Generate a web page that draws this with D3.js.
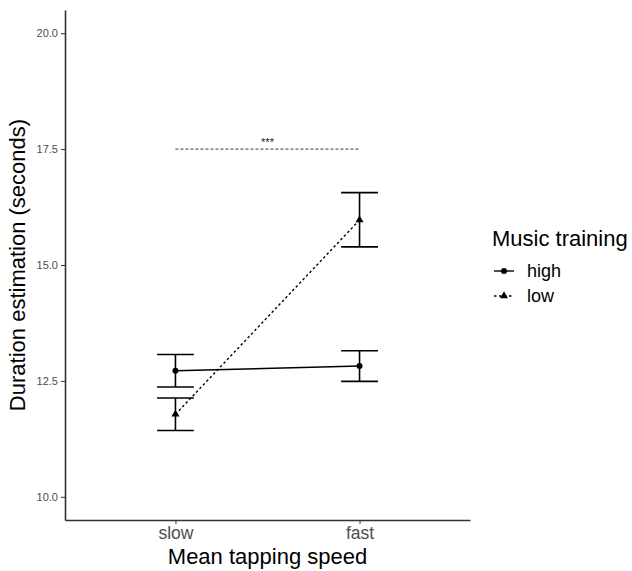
<!DOCTYPE html>
<html>
<head>
<meta charset="utf-8">
<script src="https://cdn.jsdelivr.net/npm/d3@7"></script>
<style>
  body { margin: 0; background: #fff; }
  svg { font-family: "Liberation Sans", Arial, sans-serif; }
</style>
</head>
<body>
<div id="chart"></div>
<script>
"use strict";

const speeds = ["slow", "fast"];
const groups = ["high", "low"];
const yTicks = [10, 12.5, 15, 17.5, 20];

// mean, lower and upper per speed
const highMean = [12.72, 12.82];
const highLow = [12.37, 12.49];
const highHigh = [13.07, 13.15];
const lowMean = [11.78, 15.97];
const lowLow = [11.43, 15.39];
const lowHigh = [12.13, 16.56];

const sigLevel = 17.5;
const sigLabel = "***";

const width = 632, height = 571;
const plot = { left: 65, right: 470, top: 10, bottom: 520 };

const svg = d3.select("#chart").append("svg")
  .attr("width", width)
  .attr("height", height);

const x = d3.scalePoint()
  .domain(speeds)
  .range([plot.left, plot.right])
  .padding(0.6);

const y = d3.scaleLinear()
  .domain([9.5, 20.5])
  .range([plot.bottom, plot.top]);

// axes
const yAxis = svg.append("g")
  .attr("transform", `translate(${plot.left},0)`)
  .call(d3.axisLeft(y).tickValues(yTicks).tickFormat(d3.format(".1f"))
    .tickSizeInner(4).tickSizeOuter(0).tickPadding(3));
yAxis.select(".domain").attr("stroke", "#333").attr("stroke-width", 1.6);
yAxis.selectAll(".tick line").attr("stroke", "#333").attr("stroke-width", 1);
yAxis.selectAll(".tick text")
  .attr("fill", "#4d4d4d")
  .style("font-size", "11px")
  .style("font-family", "Liberation Sans, Arial, sans-serif");

const xAxis = svg.append("g")
  .attr("transform", `translate(0,${plot.bottom})`)
  .call(d3.axisBottom(x).tickSizeInner(4).tickSizeOuter(0).tickPadding(3));
xAxis.select(".domain").attr("stroke", "#333").attr("stroke-width", 1.6);
xAxis.selectAll(".tick line").attr("stroke", "#333").attr("stroke-width", 1);
xAxis.selectAll(".tick text")
  .attr("fill", "#4d4d4d")
  .style("font-size", "17.5px")
  .style("font-family", "Liberation Sans, Arial, sans-serif");

// axis titles
svg.append("text")
  .attr("x", (plot.left + plot.right) / 2)
  .attr("y", 564)
  .attr("text-anchor", "middle")
  .style("font-size", "22px")
  .text("Mean tapping speed");

svg.append("text")
  .attr("transform", `translate(25,${(plot.top + plot.bottom) / 2}) rotate(-90)`)
  .attr("text-anchor", "middle")
  .style("font-size", "22px")
  .text("Duration estimation (seconds)");

// significance line
svg.append("line")
  .attr("x1", x("slow")).attr("x2", x("fast"))
  .attr("y1", y(sigLevel)).attr("y2", y(sigLevel))
  .attr("stroke", "#000")
  .attr("stroke-width", 0.8)
  .attr("stroke-dasharray", "3,2");
svg.append("text")
  .attr("x", (x("slow") + x("fast")) / 2)
  .attr("y", y(sigLevel) - 3)
  .attr("text-anchor", "middle")
  .style("font-size", "11px")
  .attr("fill", "#222")
  .text(sigLabel);

const series = [
  { name: "high", mean: highMean, lo: highLow, hi: highHigh, dash: null, shape: d3.symbolCircle },
  { name: "low", mean: lowMean, lo: lowLow, hi: lowHigh, dash: "2.5,2.5", shape: d3.symbolTriangle }
];

const capHalf = x.step() * 0.1;
const line = d3.line().x((d, i) => x(speeds[i])).y(d => y(d));

for (let s of series) {
  const g = svg.append("g");
  // error bars
  speeds.forEach((sp, i) => {
    const cx = x(sp);
    g.append("line")
      .attr("x1", cx).attr("x2", cx)
      .attr("y1", y(s.lo[i])).attr("y2", y(s.hi[i]))
      .attr("stroke", "#000").attr("stroke-width", 1.6);
    [s.lo[i], s.hi[i]].forEach(v => {
      g.append("line")
        .attr("x1", cx - capHalf).attr("x2", cx + capHalf)
        .attr("y1", y(v)).attr("y2", y(v))
        .attr("stroke", "#000").attr("stroke-width", 1.6);
    });
  });
  g.append("path")
    .attr("d", line(s.mean))
    .attr("fill", "none")
    .attr("stroke", "#000")
    .attr("stroke-width", 1.4)
    .attr("stroke-dasharray", s.dash);
  g.selectAll(".pt")
    .data(s.mean)
    .join("path")
    .attr("transform", (d, i) => `translate(${x(speeds[i])},${y(d)})`)
    .attr("d", d3.symbol().type(s.shape).size(28))
    .attr("fill", "#000");
}

// legend
const legend = svg.append("g").attr("transform", "translate(492,0)");
legend.append("text")
  .attr("x", 0).attr("y", 246)
  .style("font-size", "22px")
  .text("Music training");

series.forEach((s, i) => {
  const ly = 271 + i * 25;
  legend.append("line")
    .attr("x1", 2).attr("x2", 22)
    .attr("y1", ly).attr("y2", ly)
    .attr("stroke", "#000").attr("stroke-width", 1.4)
    .attr("stroke-dasharray", s.dash);
  legend.append("path")
    .attr("transform", `translate(12,${ly})`)
    .attr("d", d3.symbol().type(s.shape).size(28))
    .attr("fill", "#000");
  legend.append("text")
    .attr("x", 35).attr("y", ly)
    .attr("dy", "0.35em")
    .style("font-size", "18px")
    .text(s.name);
});
</script>
</body>
</html>
